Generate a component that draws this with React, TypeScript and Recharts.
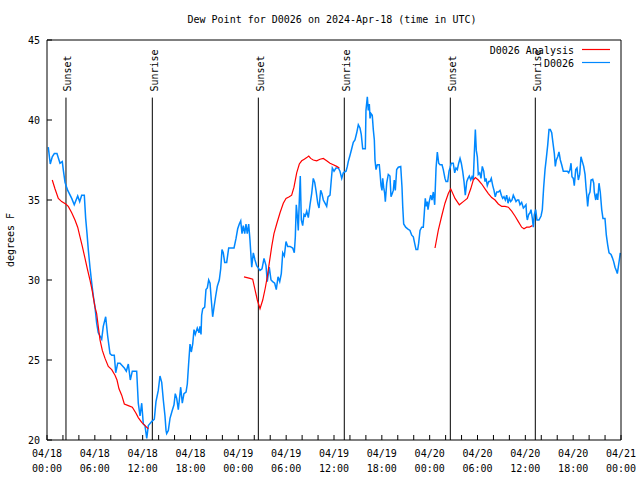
import React from 'react';
import { LineChart, Line, XAxis, YAxis, ReferenceLine } from 'recharts';

// Hours since 2024-04-18 00:00 UTC and dew point (deg F) of the D0026 observations
const obsHours = [
  0.16, 0.41, 0.66, 0.92, 1.25, 1.63, 1.92, 2.04, 2.26, 2.6, 3.1, 3.42, 3.85, 4.1, 4.35, 4.68, 4.85, 5.02, 5.18, 5.39,
  5.61, 5.81, 6.02, 6.23, 6.43, 6.65, 6.86, 7.06, 7.36, 7.61, 7.9, 8.12, 8.44, 8.62, 8.87, 9.16, 9.7, 9.95, 10.2, 10.45,
  10.7, 11.25, 11.45, 11.67, 11.88, 12.08, 12.29, 12.51, 12.71, 13.13, 13.46, 13.67, 13.96, 14.17, 14.39, 14.59, 14.8, 14.93, 15.01, 15.22,
  15.43, 15.68, 15.93, 16.09, 16.27, 16.47, 16.6, 16.77, 16.97, 17.18, 17.44, 17.6, 17.77, 17.94, 18.1, 18.28, 18.44, 18.6, 18.85, 19.07,
  19.19, 19.32, 19.4, 19.53, 19.78, 19.94, 20.11, 20.28, 20.45, 20.61, 20.78, 20.95, 21.16, 21.36, 21.61, 21.79, 21.95, 22.11, 22.29, 22.54,
  22.79, 23.46, 23.71, 23.92, 24.12, 24.3, 24.46, 24.62, 24.8, 24.96, 25.12, 25.3, 25.46, 25.68, 25.88, 26.09, 26.3, 26.72, 26.97, 27.22,
  27.47, 27.63, 27.88, 28.1, 28.31, 28.56, 28.76, 28.98, 29.19, 29.39, 29.57, 29.77, 29.98, 30.19, 30.48, 30.82, 31.02, 31.15, 31.27, 31.4,
  31.52, 31.65, 31.77, 31.9, 32.07, 32.24, 32.4, 32.58, 32.78, 32.99, 33.2, 33.4, 33.58, 33.74, 33.96, 34.12, 34.33, 34.49, 34.66, 34.87,
  35.08, 35.25, 35.5, 35.66, 35.79, 36.0, 36.25, 36.54, 36.75, 36.97, 37.17, 37.51, 37.67, 37.79, 38.01, 38.22, 38.42, 38.63, 38.85, 39.05,
  39.26, 39.42, 39.6, 39.93, 40.01, 40.18, 40.3, 40.43, 40.52, 40.64, 40.8, 40.93, 41.06, 41.14, 41.27, 41.43, 41.68, 41.77, 41.9, 42.02,
  42.11, 42.23, 42.36, 42.44, 42.61, 42.81, 43.02, 43.15, 43.31, 43.44, 43.56, 43.69, 43.86, 44.07, 44.37, 44.53, 44.62, 44.74, 44.99, 45.24,
  45.53, 45.75, 45.95, 46.16, 46.29, 46.5, 46.62, 46.79, 47.0, 47.2, 47.33, 47.45, 47.58, 47.71, 47.79, 47.95, 48.13, 48.29, 48.46, 48.63,
  48.8, 48.96, 49.13, 49.3, 49.55, 49.71, 49.92, 50.05, 50.26, 50.43, 50.55, 50.71, 50.96, 51.14, 51.3, 51.47, 51.64, 51.81, 51.97, 52.14,
  52.31, 52.47, 52.65, 52.81, 52.97, 53.15, 53.31, 53.47, 53.6, 53.73, 53.85, 53.98, 54.1, 54.28, 54.44, 54.6, 54.78, 54.94, 55.07, 55.23,
  55.41, 55.57, 55.73, 55.91, 56.07, 56.23, 56.41, 56.61, 56.82, 56.99, 57.16, 57.32, 57.49, 57.66, 57.83, 57.99, 58.16, 58.33, 58.49, 58.67,
  58.83, 58.99, 59.17, 59.33, 59.54, 59.75, 59.92, 60.08, 60.17, 60.25, 60.42, 60.59, 60.71, 60.88, 61.0, 61.13, 61.3, 61.46, 61.71, 61.97,
  62.13, 62.3, 62.47, 62.63, 62.81, 62.97, 63.13, 63.31, 63.47, 63.64, 63.76, 63.89, 64.06, 64.22, 64.39, 64.56, 64.76, 64.98, 65.27, 65.44,
  65.6, 65.73, 65.85, 66.02, 66.14, 66.32, 66.48, 66.65, 66.82, 66.98, 67.15, 67.32, 67.49, 67.61, 67.74, 67.82, 67.95, 68.11, 68.24, 68.45,
  68.58, 68.65, 68.83, 68.95, 69.08, 69.24, 69.4, 69.58, 69.74, 69.99, 70.16, 70.33, 70.5, 70.75, 70.91, 71.08, 71.25, 71.41, 71.54, 71.66,
  71.79, 71.91,
];
const obsDewF = [
  38.3, 37.25, 37.7, 37.9, 37.9, 37.3, 37.4, 36.9, 36.1, 35.6, 35.1, 34.7, 35.25, 34.9, 35.3, 35.3, 33.85, 32.9, 31.9, 30.8,
  29.8, 29.0, 28.3, 27.3, 26.7, 26.5, 26.3, 27.1, 27.7, 26.5, 25.4, 25.3, 25.3, 24.2, 24.8, 24.8, 24.5, 24.3, 24.75, 23.75,
  24.3, 24.3, 22.3, 21.5, 22.3, 21.0, 20.9, 20.1, 20.9, 21.15, 21.3, 22.4, 23.1, 24.0, 23.6, 22.5, 21.5, 20.6, 20.4, 20.6,
  21.35, 21.8, 22.2, 22.9, 22.6, 21.9, 22.5, 23.3, 22.3, 22.9, 23.0, 23.5, 24.8, 26.0, 25.5, 26.0, 26.9, 26.6, 27.0, 26.7,
  27.1, 26.6, 27.8, 28.2, 28.3, 29.4, 29.5, 30.0, 29.8, 28.75, 27.7, 28.3, 29.0, 29.6, 30.0, 30.7, 31.9, 31.7, 31.1, 31.1,
  32.0, 32.0, 32.6, 33.2, 33.5, 33.7, 32.9, 33.4, 32.9, 33.5, 32.9, 33.5, 32.5, 30.8, 31.7, 31.25, 30.9, 30.6, 30.7, 31.35,
  30.9, 29.9, 30.8, 30.0, 29.9, 29.8, 29.4, 30.2, 29.9, 30.4, 31.7, 31.5, 32.4, 32.1, 32.1, 32.0, 31.7, 32.7, 34.7, 34.0,
  33.1, 35.0, 36.5, 33.75, 33.4, 34.1, 34.0, 34.3, 33.9, 34.7, 35.4, 36.35, 36.1, 35.6, 34.8, 34.5, 35.6, 35.4, 35.0, 34.8,
  34.6, 35.2, 35.3, 36.25, 37.0, 36.8, 37.0, 37.0, 36.8, 36.35, 36.7, 36.8, 37.1, 37.4, 37.8, 38.2, 38.6, 38.75, 39.2, 39.7,
  39.5, 39.1, 38.2, 38.2, 40.6, 41.45, 40.6, 41.0, 40.1, 40.4, 40.3, 39.4, 38.75, 37.5, 36.9, 37.2, 37.2, 36.7, 35.9, 35.6,
  36.35, 35.8, 35.4, 34.9, 36.05, 36.6, 36.5, 35.2, 35.4, 35.6, 36.25, 35.6, 36.9, 37.05, 37.1, 35.8, 34.6, 33.5, 33.3, 33.2,
  33.1, 32.8, 32.7, 32.2, 31.9, 31.9, 32.3, 33.1, 33.3, 33.3, 34.2, 35.1, 34.6, 34.9, 34.4, 34.9, 35.3, 35.0, 35.5, 34.7,
  37.0, 38.0, 37.3, 37.2, 37.2, 36.9, 36.35, 36.15, 36.15, 36.8, 37.0, 37.3, 37.3, 36.7, 37.0, 36.9, 37.3, 37.6, 37.3, 36.8,
  36.15, 35.3, 36.15, 36.35, 36.5, 36.25, 36.45, 36.25, 37.9, 39.4, 38.1, 37.7, 36.6, 36.7, 36.35, 37.1, 36.8, 36.15, 36.35, 35.9,
  36.15, 36.15, 36.35, 35.9, 35.6, 35.2, 35.5, 35.5, 35.6, 35.3, 35.1, 35.2, 35.0, 35.3, 34.8, 35.1, 34.9, 35.0, 35.3, 35.1,
  34.9, 35.0, 35.0, 34.7, 34.85, 34.5, 34.6, 34.7, 34.0, 33.75, 34.1, 34.2, 34.4, 33.85, 33.3, 34.1, 34.4, 33.75, 33.75, 34.0,
  34.4, 35.8, 36.9, 37.6, 38.45, 39.4, 39.4, 39.2, 38.55, 37.9, 37.1, 37.5, 37.7, 38.0, 37.5, 37.2, 36.8, 36.8, 36.8, 36.7,
  36.9, 37.3, 36.45, 36.35, 35.9, 36.9, 37.0, 36.25, 36.6, 37.7, 37.4, 37.1, 36.6, 35.8, 35.1, 34.6, 35.3, 35.5, 36.25, 36.3,
  36.05, 35.5, 35.0, 35.4, 35.0, 36.05, 35.5, 34.4, 33.85, 33.85, 32.8, 32.2, 31.7, 31.6, 31.4, 31.15, 30.8, 30.6, 30.4, 30.8,
  31.25, 31.7,
];

// D0026 Analysis, three separate runs
const anaHours1 = [0.66, 1.0, 1.42, 1.84, 2.35, 2.67, 3.1, 3.51, 3.85, 4.14, 4.43, 4.77, 5.06, 5.39, 5.68, 6.02, 6.23, 6.43, 6.65, 6.94, 7.28, 7.69, 8.12, 8.53, 8.78, 9.03, 9.37, 9.7, 10.2, 10.7, 11.13, 11.45, 11.88, 12.29, 12.71];
const anaDewF1 = [36.25, 35.7, 35.1, 34.9, 34.75, 34.6, 34.2, 33.75, 33.3, 32.7, 32.1, 31.35, 30.7, 30.0, 29.3, 28.3, 27.9, 27.1, 26.25, 25.6, 25.1, 24.6, 24.4, 24.05, 23.75, 23.2, 22.8, 22.25, 22.15, 22.05, 21.7, 21.4, 21.1, 20.9, 20.7];
const anaHours2 = [24.71, 25.46, 25.8, 26.09, 26.38, 26.72, 27.06, 27.38, 27.63, 27.88, 28.19, 28.47, 28.81, 29.23, 29.64, 29.98, 30.39, 30.69, 30.98, 31.32, 31.65, 31.95, 32.27, 32.58, 32.83, 33.08, 33.4, 33.83, 34.24, 34.66, 35.08, 35.5, 35.91, 36.34, 36.67];
const anaDewF2 = [30.2, 30.1, 30.05, 29.4, 28.75, 28.2, 28.75, 29.5, 30.2, 31.05, 32.1, 32.9, 33.5, 34.2, 34.8, 35.1, 35.2, 35.3, 35.8, 36.7, 37.25, 37.45, 37.55, 37.65, 37.75, 37.6, 37.5, 37.45, 37.55, 37.6, 37.45, 37.3, 37.2, 37.1, 37.0];
const anaHours3 = [48.67, 49.08, 49.51, 49.92, 50.34, 50.64, 51.18, 51.72, 52.22, 52.72, 53.15, 53.47, 53.73, 54.1, 54.53, 54.94, 55.36, 55.78, 56.2, 56.61, 57.04, 57.45, 57.87, 58.29, 58.7, 59.12, 59.54, 59.83, 60.17, 60.5, 60.88];
const anaDewF3 = [32.0, 33.1, 34.0, 34.8, 35.4, 35.7, 35.1, 34.7, 34.9, 35.1, 35.7, 36.25, 36.4, 36.25, 36.0, 35.7, 35.4, 35.15, 35.0, 34.75, 34.6, 34.6, 34.55, 34.3, 34.0, 33.65, 33.3, 33.2, 33.3, 33.3, 33.4];

const sunLabels = ['Sunset', 'Sunrise', 'Sunset', 'Sunrise', 'Sunset', 'Sunrise'];
const sunHours = [2.38, 13.21, 26.51, 37.29, 50.59, 61.25];

const xTickHours = [0, 2, 4, 6, 8, 10, 12, 14, 16, 18, 20, 22, 24, 26, 28, 30, 32, 34, 36, 38, 40, 42, 44, 46, 48, 50, 52, 54, 56, 58, 60, 62, 64, 66, 68, 70, 72];
const xLabelHours = [0, 6, 12, 18, 24, 30, 36, 42, 48, 54, 60, 66, 72];
const xLabelDates = ['04/18', '04/18', '04/18', '04/18', '04/19', '04/19', '04/19', '04/19', '04/20', '04/20', '04/20', '04/20', '04/21'];
const xLabelTimes = ['00:00', '06:00', '12:00', '18:00', '00:00', '06:00', '12:00', '18:00', '00:00', '06:00', '12:00', '18:00', '00:00'];
const yTicks = [20, 25, 30, 35, 40, 45];

const seriesNames = ['D0026 Analysis', 'D0026'];
const seriesColors = ['#ff0000', '#0088ff'];

const zip = (hs: number[], vs: number[]) => hs.map((h, i) => ({ h, v: vs[i] }));
const obsData = zip(obsHours, obsDewF);
const ana1 = zip(anaHours1, anaDewF1);
const ana2 = zip(anaHours2, anaDewF2);
const ana3 = zip(anaHours3, anaDewF3);

const FONT = '"DejaVu Sans Mono", "Liberation Mono", monospace';

const XTick = (props: any) => {
  const { x, y, payload } = props;
  const idx = xLabelHours.indexOf(payload.value);
  if (idx < 0) return <g />;
  return (
    <text x={x} y={y} textAnchor="middle" fontFamily={FONT} fontSize={10} fill="#000">
      <tspan x={x} dy={12}>{xLabelDates[idx]}</tspan>
      <tspan x={x} dy={15}>{xLabelTimes[idx]}</tspan>
    </text>
  );
};

const YTick = (props: any) => {
  const { x, y, payload } = props;
  return (
    <text x={x} y={y + 3.5} textAnchor="end" fontFamily={FONT} fontSize={10} fill="#000">
      {payload.value}
    </text>
  );
};

const makeSunLabel = (text: string) => (props: any) => {
  const vb = props.viewBox || {};
  const x = (vb.x || 0) + 5.5;
  const y = (vb.y || 0) - 6;
  return (
    <text x={x} y={y} transform={`rotate(-90 ${x} ${y})`} textAnchor="start" fontFamily={FONT} fontSize={10} fill="#000">
      {text}
    </text>
  );
};

export default function App() {
  return (
    <div style={{ position: 'absolute', left: 0, top: 0, width: 640, height: 480, background: '#fff' }}>
      <LineChart width={640} height={480} data={obsData} margin={{ top: 10, right: 0, bottom: 0, left: 0 }}>
        <XAxis
          xAxisId="b"
          dataKey="h"
          type="number"
          domain={[0, 72]}
          ticks={xTickHours}
          interval={0}
          height={40}
          tickSize={-5}
          tickMargin={10}
          tick={<XTick />}
          stroke="#000"
          axisLine={{ stroke: '#000' }}
          tickLine={{ stroke: '#000' }}
          allowDataOverflow
        />
        <XAxis
          xAxisId="t"
          orientation="top"
          dataKey="h"
          type="number"
          domain={[0, 72]}
          ticks={xTickHours}
          interval={0}
          height={30}
          tickSize={-5}
          tick={false}
          stroke="#000"
          allowDataOverflow
        />
        <YAxis
          yAxisId="l"
          type="number"
          domain={[20, 45]}
          ticks={yTicks}
          interval={0}
          width={47}
          tickSize={-5}
          tickMargin={12}
          tick={<YTick />}
          stroke="#000"
          allowDataOverflow
        />
        <YAxis
          yAxisId="r"
          orientation="right"
          type="number"
          domain={[20, 45]}
          ticks={yTicks}
          interval={0}
          width={19}
          tickSize={-5}
          tick={false}
          stroke="#000"
          allowDataOverflow
        />
        {sunHours.map((h, i) => (
          <ReferenceLine
            key={'sun' + i}
            xAxisId="b"
            yAxisId="l"
            segment={[{ x: h, y: 41.4 }, { x: h, y: 20 }]}
            stroke="#000"
            strokeWidth={1}
            ifOverflow="visible"
            label={makeSunLabel(sunLabels[i])}
          />
        ))}
        <Line xAxisId="b" yAxisId="l" data={obsData} dataKey="v" type="linear" stroke={seriesColors[1]} strokeWidth={1.5} dot={false} isAnimationActive={false} />
        <Line xAxisId="b" yAxisId="l" data={ana1} dataKey="v" type="linear" stroke={seriesColors[0]} strokeWidth={1.2} dot={false} isAnimationActive={false} />
        <Line xAxisId="b" yAxisId="l" data={ana2} dataKey="v" type="linear" stroke={seriesColors[0]} strokeWidth={1.2} dot={false} isAnimationActive={false} />
        <Line xAxisId="b" yAxisId="l" data={ana3} dataKey="v" type="linear" stroke={seriesColors[0]} strokeWidth={1.2} dot={false} isAnimationActive={false} />
      </LineChart>
      <svg width={640} height={480} style={{ position: 'absolute', left: 0, top: 0, pointerEvents: 'none' }}>
        <text x={332} y={23} textAnchor="middle" fontFamily={FONT} fontSize={10} fill="#000">
          Dew Point for D0026 on 2024-Apr-18 (time in UTC)
        </text>
        <text x={14} y={240} transform="rotate(-90 14 240)" textAnchor="middle" fontFamily={FONT} fontSize={10} fill="#000">
          degrees F
        </text>
        {seriesNames.map((n, i) => (
          <g key={n}>
            <text x={574} y={53.5 + i * 13} textAnchor="end" fontFamily={FONT} fontSize={10} fill="#000">{n}</text>
            <line x1={582} x2={610} y1={49.5 + i * 13} y2={49.5 + i * 13} stroke={seriesColors[i]} strokeWidth={1.2} />
          </g>
        ))}
      </svg>
    </div>
  );
}
